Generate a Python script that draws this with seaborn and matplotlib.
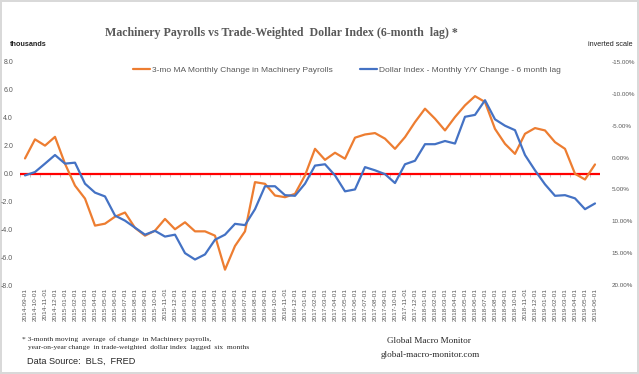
import numpy as np
import pandas as pd
import matplotlib.pyplot as plt
import seaborn as sns
from matplotlib.ticker import FuncFormatter

# --- Data ---
months = pd.date_range('2014-09-01', '2019-06-01', freq='MS').strftime('%Y-%m-%d').tolist()

# 3-mo MA monthly change in machinery payrolls (thousands, left axis)
payrolls = [1.08, 2.45, 2.0, 2.63, 0.7, -0.87, -1.8, -3.74, -3.6, -3.1,
            -2.8, -3.9, -4.46, -4.1, -3.26, -4.0, -3.5, -4.15, -4.15, -4.46,
            -6.9, -5.2, -4.15, -0.62, -0.74, -1.58, -1.7, -1.46, -0.14, 1.77,
            0.98, 1.49, 1.06, 2.57, 2.8, 2.9, 2.5, 1.77, 2.61, 3.69,
            4.65, 3.93, 3.09, 4.05, 4.89, 5.55, 5.13, 3.2, 2.13, 1.41,
            2.85, 3.26, 3.09, 2.25, 1.77, -0.02, -0.43, 0.65]

# Dollar index Y/Y change, 6 month lag (%, right axis, inverted)
dollar = [2.8, 2.27, 0.95, -0.4, 0.95, 0.8, 4.1, 5.5, 6.1, 9.1,
          9.9, 11.0, 12.1, 11.5, 12.4, 12.1, 15.0, 16.0, 15.2, 12.9,
          12.1, 10.4, 10.6, 8.1, 4.5, 4.5, 5.9, 6.0, 4.1, 1.26,
          1.05, 2.8, 5.3, 5.0, 1.5, 2.0, 2.6, 4.0, 1.05, 0.5,
          -2.1, -2.1, -2.6, -2.2, -6.4, -6.7, -9.0, -6.0, -5.0, -4.3,
          -0.4, 2.0, 4.2, 6.0, 5.9, 6.4, 8.1, 7.2]

left_ticks = [-8, -6, -4, -2, 0, 2, 4, 6, 8]
right_ticks = [-15, -10, -5, 0, 5, 10, 15, 20]

label_pay = '3-mo MA Monthly Change in Machinery Payrolls'
label_usd = 'Dollar Index - Monthly Y/Y Change - 6 month lag'

df = pd.DataFrame({'idx': np.arange(len(months)), 'month': months,
                   'payrolls': payrolls, 'dollar': dollar})

ORANGE = '#ED7D31'
BLUE = '#4472C4'
GREY = '#595959'

sns.set_style('white')
plt.rcParams['font.family'] = ['Liberation Sans', 'DejaVu Sans']

fig = plt.figure(figsize=(6.39, 3.74), dpi=100)
fig.patch.set_edgecolor('#d9d9d9')
fig.patch.set_linewidth(1.5)
ax = fig.add_axes([20 / 639, 1 - 285 / 374, 580 / 639, 223 / 374])
ax2 = ax.twinx()

sns.lineplot(data=df, x='idx', y='payrolls', ax=ax, color=ORANGE, linewidth=1.6,
             label=label_pay, legend=False)
sns.lineplot(data=df, x='idx', y='dollar', ax=ax2, color=BLUE, linewidth=1.6,
             label=label_usd, legend=False)

# zero line (red category axis)
ax.axhline(0, color='#FF0000', linewidth=1.6, zorder=1)
bounds = np.arange(len(months) + 1) - 0.5
ax.vlines(bounds, -0.22, 0, color='#bfbfbf', linewidth=0.6, zorder=0)

ax.set_xlim(-0.5, len(months) - 0.5)
ax.set_ylim(-8, 8)
ax.set_yticks(left_ticks)
ax.yaxis.set_major_formatter(FuncFormatter(lambda v, p: f'{v:.1f}'))
ax.set_xticks(df['idx'])
ax.set_xticklabels(months, rotation=90, fontsize=4.6, color=GREY)
ax.tick_params(axis='both', length=0, pad=2)
ax.tick_params(axis='y', labelsize=5.0, labelcolor=GREY, pad=5)

ax2.set_ylim(20, -15)
ax2.set_yticks(right_ticks)
ax2.yaxis.set_major_formatter(FuncFormatter(lambda v, p: f'{v:.2f}%'))
ax2.tick_params(axis='y', length=0, labelsize=4.5, labelcolor=GREY, pad=8.5)

for a in (ax, ax2):
    a.set_xlabel('')
    a.set_ylabel('')
    for s in a.spines.values():
        s.set_visible(False)
    a.grid(False)

# legend
h1, l1 = ax.get_legend_handles_labels()
h2, l2 = ax2.get_legend_handles_labels()
ax2.legend(h1 + h2, l1 + l2, loc='center', bbox_to_anchor=(0.564, 0.963), ncol=2,
           frameon=False, fontsize=6.0, labelcolor=GREY, handlelength=2.0,
           columnspacing=3.3, handletextpad=0.25)

# titles and notes
fig.text(281 / 639, 1 - 33 / 374, 'Machinery Payrolls vs Trade-Weighted  Dollar Index (6-month  lag) *',
         ha='center', va='center', fontsize=8.6, fontweight='bold', color=GREY,
         family='Liberation Serif')
fig.text(10 / 639, 1 - 45 / 374, 'thousands', ha='left', va='center', fontsize=5.2,
         fontweight='bold', color='#222222')
fig.text(633 / 639, 1 - 44 / 374, 'inverted scale', ha='right', va='center', fontsize=5.2,
         color='#222222')

fig.text(22 / 639, 1 - 339 / 374, '* 3-month moving  average  of change  in Machinery payrolls,',
         ha='left', va='center', fontsize=5.4, family='Liberation Serif')
fig.text(28 / 639, 1 - 348 / 374, 'year-on-year change  in trade-weighted  dollar index  lagged  six  months',
         ha='left', va='center', fontsize=5.4, family='Liberation Serif')
fig.text(27 / 639, 1 - 361 / 374, 'Data Source:  BLS,  FRED', ha='left', va='center',
         fontsize=6.6, family='Liberation Sans')
fig.text(429 / 639, 1 - 341 / 374, 'Global Macro Monitor', ha='center', va='center',
         fontsize=6.6, family='Liberation Serif')
fig.text(430 / 639, 1 - 355 / 374, 'global-macro-monitor.com', ha='center', va='center',
         fontsize=6.6, family='Liberation Serif')

fig.savefig('out.png', dpi=100, edgecolor=fig.get_edgecolor())
